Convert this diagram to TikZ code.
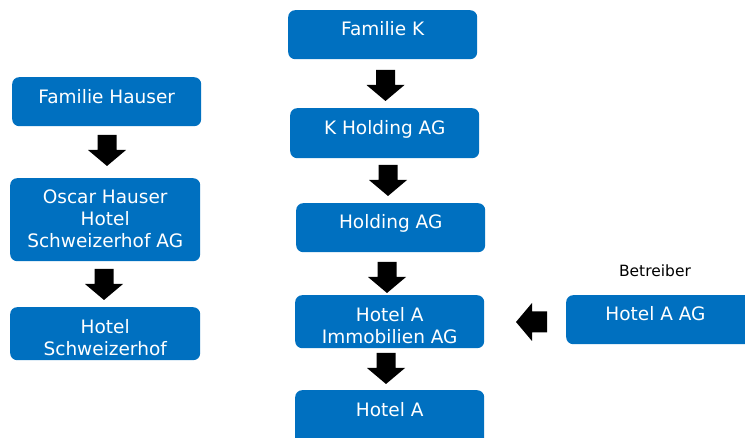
\documentclass[tikz,border=0pt]{standalone}
\usepackage{fontspec}
\setmainfont{DejaVu Sans}
\definecolor{boxblue}{RGB}{0,112,192}
\tikzset{
  box/.style={fill=boxblue, rounded corners=7pt, inner sep=0pt, draw=none},
  txt/.style={text=white, font=\fontsize{18.5}{22}\selectfont, align=center, anchor=north, inner sep=0pt},
  downarr/.pic={\fill[black] (-9.5,0) -- (9.5,0) -- (9.5,15) -- (19,15) -- (0,31) -- (-19,15) -- (-9.5,15) -- cycle;},
  leftarr/.pic={\fill[black] (0,0) -- (16,-19) -- (16,-10.5) -- (31,-10.5) -- (31,10.5) -- (16,10.5) -- (16,19) -- cycle;}
}
\begin{document}
\begin{tikzpicture}[x=1pt,y=-1pt]
\useasboundingbox (0,0) rectangle (745,438);
\clip (0,0) rectangle (745,438);
% left column
\node[box, minimum width=189pt, minimum height=49pt, anchor=north west] (fh) at (12,77) {};
\node[box, minimum width=190pt, minimum height=83pt, anchor=north west] (oh) at (10,178) {};
\node[box, minimum width=190pt, minimum height=53pt, anchor=north west] (hs) at (10,307) {};
% middle column
\node[box, minimum width=189pt, minimum height=49pt, anchor=north west] (fk) at (288,10) {};
\node[box, minimum width=189pt, minimum height=50pt, anchor=north west] (kh) at (290,108) {};
\node[box, minimum width=189pt, minimum height=49pt, anchor=north west] (ho) at (296,203) {};
\node[box, minimum width=189pt, minimum height=53pt, anchor=north west] (hi) at (295,295) {};
\node[box, minimum width=189pt, minimum height=60pt, anchor=north west] (ha) at (295,390) {};
% right
\node[box, minimum width=200pt, minimum height=49pt, anchor=north west] (hag) at (566,295) {};
% texts
\node[txt] at ([yshift=-12pt]fh.north) {Familie Hauser};
\node[txt] at ([yshift=-12pt]oh.north) {Oscar Hauser\\Hotel\\Schweizerhof AG};
\node[txt] at ([yshift=-12pt]hs.north) {Hotel\\Schweizerhof};
\node[txt] at ([yshift=-11.5pt]fk.north) {Familie K};
\node[txt] at ([yshift=-12pt]kh.north) {K Holding AG};
\node[txt] at ([yshift=-11.5pt]ho.north) {Holding AG};
\node[txt] at ([yshift=-12pt]hi.north) {Hotel A\\Immobilien AG};
\node[txt] at ([yshift=-12pt]ha.north) {Hotel A};
\node[txt, anchor=north] at (655.5,306.5) {Hotel A AG};
\node[font=\fontsize{15.5}{18}\selectfont, inner sep=0pt] (betr) at (655,271) {Betreiber};
% arrows
\pic at (107,135) {downarr};
\pic at (104,269) {downarr};
\pic at (385.5,70) {downarr};
\pic at (388,165) {downarr};
\pic at (387,262) {downarr};
\pic at (386,353) {downarr};
\pic at (516,322) {leftarr};
\end{tikzpicture}
\end{document}
